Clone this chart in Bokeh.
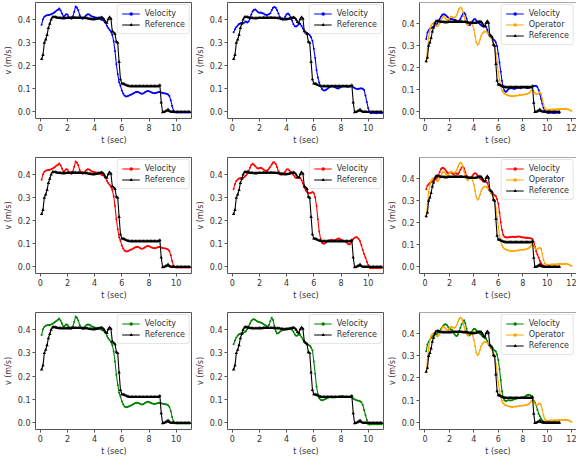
from bokeh.plotting import figure
from bokeh.layouts import gridplot
from bokeh.models import FixedTicker, PrintfTickFormatter, Span
from bokeh.embed import file_html
from bokeh.resources import INLINE

# ---------------- data ----------------
# sampling grids (s)
t_run = [round(0.1 * i, 1) for i in range(1, 111)]   # 0.1 .. 11.0
t_op = [round(0.1 * i, 1) for i in range(1, 121)]    # 0.1 .. 12.0

reference = [
    0.228, 0.245, 0.298, 0.312, 0.332, 0.362, 0.380, 0.398, 0.408, 0.410,
    0.409, 0.407, 0.406, 0.405, 0.405, 0.404, 0.404, 0.404, 0.405, 0.405,
    0.405, 0.405, 0.406, 0.406, 0.406, 0.406, 0.406, 0.406, 0.406, 0.406,
    0.405, 0.405, 0.405, 0.404, 0.404, 0.402, 0.401, 0.400, 0.400, 0.400,
    0.401, 0.402, 0.404, 0.406, 0.407, 0.405, 0.398, 0.388, 0.384, 0.400,
    0.408, 0.402, 0.348, 0.342, 0.336, 0.302, 0.298, 0.215, 0.140, 0.122,
    0.121, 0.119, 0.116, 0.113, 0.111,
    0.110, 0.110, 0.110, 0.110, 0.110, 0.110, 0.110, 0.110, 0.110, 0.110,
    0.110, 0.110, 0.110, 0.110, 0.110, 0.110, 0.110, 0.110, 0.110, 0.110,
    0.110, 0.110,
    0.115, 0.040, -0.002, -0.001, 0.002, 0.004, 0.010, 0.003, 0.000, 0.000,
    -0.001, -0.001, -0.001, -0.001, -0.001, -0.001, -0.001, -0.001, -0.001,
    -0.001, -0.001, -0.001, -0.001,
]

vel_col1 = [
    0.376, 0.400, 0.410, 0.415, 0.417, 0.418, 0.419, 0.421, 0.424, 0.428,
    0.432, 0.437, 0.441, 0.446, 0.437, 0.425, 0.412, 0.415, 0.421, 0.420,
    0.410, 0.404, 0.402, 0.412, 0.432, 0.455, 0.449, 0.438, 0.418, 0.406,
    0.402, 0.404, 0.412, 0.418, 0.421, 0.420, 0.416, 0.412, 0.410, 0.408,
    0.407, 0.406, 0.404, 0.401, 0.398, 0.396, 0.392, 0.384, 0.372, 0.362,
    0.354, 0.346, 0.332, 0.305, 0.262, 0.205, 0.162, 0.128, 0.112, 0.092,
    0.079, 0.070, 0.066, 0.067, 0.069, 0.072, 0.075, 0.078, 0.081, 0.084,
    0.086, 0.085, 0.082, 0.079, 0.078, 0.080, 0.084, 0.088, 0.090, 0.089,
    0.086, 0.083, 0.081, 0.080, 0.081, 0.083, 0.085, 0.085, 0.083, 0.081,
    0.080, 0.079, 0.078, 0.075, 0.068, 0.050, 0.025, 0.006, -0.002,
    -0.003, -0.003, -0.003, -0.003, -0.003, -0.003, -0.003, -0.003, -0.003,
    -0.003, -0.003,
]

vel_col2_r1 = [
    0.343, 0.356, 0.366, 0.373, 0.379, 0.382, 0.384, 0.383, 0.386, 0.390,
    0.386, 0.390, 0.402, 0.420, 0.434, 0.441, 0.442, 0.436, 0.430, 0.428,
    0.429, 0.426, 0.424, 0.420, 0.418, 0.419, 0.421, 0.426, 0.438, 0.449,
    0.453, 0.449, 0.438, 0.424, 0.409, 0.400, 0.398, 0.401, 0.411, 0.421,
    0.425, 0.419, 0.408, 0.394, 0.378, 0.369, 0.368, 0.373, 0.379, 0.380,
    0.371, 0.360, 0.350, 0.344, 0.340, 0.336, 0.331, 0.322, 0.306, 0.272,
    0.232, 0.180, 0.148, 0.126, 0.110, 0.098, 0.093, 0.092, 0.095, 0.100,
    0.104, 0.108, 0.110, 0.110, 0.108, 0.105, 0.102, 0.101, 0.104, 0.108,
    0.110, 0.111, 0.110, 0.109, 0.108, 0.109, 0.110, 0.110, 0.106, 0.103,
    0.100, 0.098, 0.099, 0.101, 0.101, 0.100, 0.094, 0.070, 0.042, 0.016,
    -0.002, -0.006, -0.005, -0.004, -0.005, -0.006, -0.005, -0.004, -0.005,
    -0.006,
]

vel_col2_r2 = [
    0.335, 0.358, 0.370, 0.377, 0.381, 0.383, 0.384, 0.384, 0.388, 0.394,
    0.402, 0.414, 0.428, 0.440, 0.445, 0.441, 0.434, 0.428, 0.425, 0.426,
    0.428, 0.425, 0.420, 0.416, 0.414, 0.418, 0.424, 0.432, 0.442, 0.450,
    0.451, 0.444, 0.430, 0.412, 0.400, 0.398, 0.400, 0.404, 0.412, 0.420,
    0.421, 0.416, 0.410, 0.404, 0.396, 0.388, 0.384, 0.386, 0.388, 0.385,
    0.374, 0.360, 0.344, 0.330, 0.324, 0.320, 0.318, 0.320, 0.323, 0.318,
    0.300, 0.262, 0.205, 0.152, 0.120, 0.104, 0.100, 0.101, 0.105, 0.110,
    0.113, 0.115, 0.116, 0.115, 0.114, 0.116, 0.119, 0.122, 0.121, 0.117,
    0.113, 0.110, 0.109, 0.106, 0.100, 0.096, 0.100, 0.110, 0.120, 0.125,
    0.128, 0.127, 0.120, 0.110, 0.094, 0.072, 0.055, 0.040, 0.022, 0.008,
    -0.004, -0.006, -0.005, -0.005, -0.005, -0.005, -0.005, -0.005, -0.005,
    -0.005,
]

vel_col2_r3 = [
    0.336, 0.352, 0.365, 0.373, 0.379, 0.382, 0.383, 0.384, 0.387, 0.392,
    0.400, 0.412, 0.425, 0.436, 0.442, 0.443, 0.440, 0.436, 0.432, 0.430,
    0.429, 0.426, 0.422, 0.418, 0.414, 0.412, 0.418, 0.435, 0.449, 0.440,
    0.415, 0.392, 0.382, 0.384, 0.390, 0.394, 0.396, 0.398, 0.400, 0.402,
    0.404, 0.403, 0.401, 0.398, 0.390, 0.378, 0.372, 0.374, 0.378, 0.376,
    0.366, 0.356, 0.348, 0.342, 0.338, 0.334, 0.330, 0.322, 0.310, 0.262,
    0.210, 0.155, 0.122, 0.105, 0.098, 0.096, 0.097, 0.100, 0.103, 0.106,
    0.108, 0.109, 0.109, 0.108, 0.108, 0.109, 0.110, 0.111, 0.112, 0.113,
    0.113, 0.112, 0.111, 0.110, 0.110, 0.110, 0.110, 0.108, 0.104, 0.100,
    0.097, 0.095, 0.094, 0.092, 0.088, 0.076, 0.055, 0.033, 0.012, -0.006,
    -0.008, -0.007, -0.007, -0.007, -0.007, -0.007, -0.007, -0.007, -0.007,
    -0.007,
]

vel_col3_r1 = [
    0.328, 0.358, 0.368, 0.374, 0.378, 0.381, 0.384, 0.388, 0.391, 0.398,
    0.408, 0.419, 0.429, 0.436, 0.440, 0.439, 0.435, 0.430, 0.425, 0.421,
    0.419, 0.418, 0.416, 0.415, 0.414, 0.410, 0.406, 0.410, 0.420, 0.431,
    0.441, 0.447, 0.440, 0.421, 0.402, 0.391, 0.392, 0.400, 0.410, 0.416,
    0.418, 0.412, 0.405, 0.400, 0.395, 0.390, 0.386, 0.385, 0.389, 0.384,
    0.370, 0.352, 0.341, 0.336, 0.331, 0.326, 0.321, 0.312, 0.296, 0.262,
    0.222, 0.180, 0.140, 0.110, 0.095, 0.089, 0.093, 0.100, 0.104, 0.106,
    0.106, 0.104, 0.103, 0.104, 0.107, 0.109, 0.108, 0.106, 0.108, 0.111,
    0.112, 0.110, 0.108, 0.107, 0.108, 0.110, 0.112, 0.114, 0.116, 0.117,
    0.116, 0.111, 0.098, 0.080, 0.058, 0.036, 0.016, 0.004, -0.002, -0.005,
    -0.006, -0.005, -0.004, -0.005, -0.006, -0.006, -0.005, -0.004, -0.005,
    -0.006,
]

vel_col3_r2 = [
    0.350, 0.366, 0.372, 0.378, 0.382, 0.386, 0.389, 0.392, 0.396, 0.402,
    0.414, 0.428, 0.440, 0.446, 0.446, 0.442, 0.434, 0.426, 0.422, 0.424,
    0.426, 0.422, 0.418, 0.420, 0.424, 0.420, 0.418, 0.426, 0.438, 0.448,
    0.452, 0.444, 0.428, 0.410, 0.400, 0.398, 0.400, 0.404, 0.412, 0.420,
    0.422, 0.420, 0.412, 0.404, 0.398, 0.394, 0.390, 0.386, 0.385, 0.388,
    0.378, 0.360, 0.345, 0.335, 0.330, 0.326, 0.322, 0.318, 0.305, 0.285,
    0.245, 0.200, 0.165, 0.144, 0.135, 0.133, 0.132, 0.132, 0.133, 0.134,
    0.135, 0.135, 0.134, 0.134, 0.135, 0.136, 0.136, 0.135, 0.133, 0.132,
    0.132, 0.131, 0.130, 0.130, 0.129, 0.128, 0.127, 0.124, 0.112, 0.090,
    0.070, 0.055, 0.040, 0.026, 0.015, 0.008, 0.003, 0.001, 0.000, 0.000,
    0.000, 0.000, 0.000, 0.000, 0.000, 0.000, 0.000, 0.000, 0.000, 0.000,
]

vel_col3_r3 = [
    0.320, 0.350, 0.362, 0.372, 0.380, 0.386, 0.390, 0.392, 0.394, 0.398,
    0.404, 0.410, 0.418, 0.426, 0.434, 0.439, 0.440, 0.436, 0.428, 0.421,
    0.418, 0.416, 0.408, 0.398, 0.390, 0.388, 0.395, 0.410, 0.425, 0.440,
    0.452, 0.458, 0.445, 0.420, 0.398, 0.390, 0.394, 0.404, 0.414, 0.420,
    0.419, 0.414, 0.408, 0.402, 0.398, 0.393, 0.388, 0.382, 0.378, 0.375,
    0.365, 0.352, 0.342, 0.334, 0.330, 0.327, 0.323, 0.318, 0.305, 0.280,
    0.240, 0.190, 0.140, 0.112, 0.100, 0.097, 0.098, 0.100, 0.100, 0.099,
    0.100, 0.102, 0.104, 0.106, 0.108, 0.109, 0.109, 0.110, 0.111, 0.112,
    0.114, 0.117, 0.121, 0.124, 0.125, 0.123, 0.118, 0.108, 0.098, 0.090,
    0.078, 0.058, 0.040, 0.028, 0.017, 0.009, 0.004, 0.002, 0.001, 0.000,
    0.000, 0.000, 0.000, 0.000, 0.000, 0.000, 0.000, 0.000, 0.000, 0.000,
]

operator = [
    0.225, 0.282, 0.338, 0.370, 0.388, 0.397, 0.400, 0.396, 0.390, 0.386,
    0.389, 0.398, 0.410, 0.423, 0.430, 0.426, 0.419, 0.412, 0.414, 0.423,
    0.429, 0.428, 0.425, 0.424, 0.428, 0.438, 0.452, 0.464, 0.471, 0.466,
    0.451, 0.430, 0.410, 0.396, 0.390, 0.398, 0.405, 0.402, 0.390, 0.370,
    0.342, 0.314, 0.302, 0.308, 0.325, 0.342, 0.353, 0.359, 0.362, 0.361,
    0.357, 0.351, 0.343, 0.334, 0.324, 0.312, 0.294, 0.265, 0.225, 0.180,
    0.142, 0.114, 0.097, 0.087, 0.081, 0.078, 0.076, 0.074, 0.072, 0.071,
    0.070, 0.070, 0.071, 0.072, 0.072, 0.073, 0.074, 0.075, 0.076, 0.076,
    0.077, 0.078, 0.079, 0.081, 0.084, 0.089, 0.096, 0.101, 0.094, 0.084,
    0.078, 0.079, 0.084, 0.086, 0.080, 0.058, 0.032, 0.015, 0.010, 0.008,
    0.008, 0.009, 0.010, 0.010, 0.010, 0.010, 0.010, 0.011, 0.011, 0.012,
    0.012, 0.012, 0.012, 0.012, 0.013, 0.012, 0.011, 0.009, 0.006, 0.003,
]

row_colors = ["#0000ff", "#ff0000", "#008000"]
operator_color = "#ffa500"
vel_grid = [
    [vel_col1, vel_col2_r1, vel_col3_r1],
    [vel_col1, vel_col2_r2, vel_col3_r2],
    [vel_col1, vel_col2_r3, vel_col3_r3],
]
x_ticks_short = [0, 2, 4, 6, 8, 10]
x_ticks_long = [0, 2, 4, 6, 8, 10, 12]
y_ticks = [0.0, 0.1, 0.2, 0.3, 0.4]

# ---------------- layout ----------------
FONT = "DejaVu Sans"
FS = "8px"
TXT = "#333333"
SPINE = "#555555"
FIG_W = 192
LEFT = 32
ROWS = [(2, 120, 25), (10, 120, 25), (10, 120, 26)]  # top border, frame, bottom border


def make_plot(r, c):
    top, fh, bot = ROWS[r]
    if c < 2:
        xr = (-0.35, 11.2)
        yr = (-0.029, 0.472)
        xt = x_ticks_short
    else:
        xr = (-0.45, 12.4)
        yr = (-0.031, 0.493)
        xt = x_ticks_long
    p = figure(width=FIG_W, height=top + fh + bot, x_range=xr, y_range=yr,
               output_backend="svg", toolbar_location=None,
               min_border=0, min_border_left=LEFT, min_border_right=0,
               min_border_top=top, min_border_bottom=bot)
    p.grid.visible = False
    p.background_fill_color = "white"
    p.border_fill_color = "white"

    for ax in (p.xaxis[0], p.yaxis[0]):
        ax.major_label_text_font = FONT
        ax.major_label_text_font_size = FS
        ax.major_label_text_color = TXT
        ax.axis_label_text_font = FONT
        ax.axis_label_text_font_size = FS
        ax.axis_label_text_font_style = "normal"
        ax.axis_label_text_color = TXT
        ax.major_tick_out = 3
        ax.major_tick_in = 0
        ax.major_tick_line_color = SPINE
        ax.minor_tick_line_color = None
        ax.major_label_standoff = 2
        ax.axis_label_standoff = 2
    p.xaxis[0].ticker = FixedTicker(ticks=xt)
    p.yaxis[0].ticker = FixedTicker(ticks=y_ticks)
    p.yaxis[0].formatter = PrintfTickFormatter(format="%.1f")
    p.xaxis[0].formatter = PrintfTickFormatter(format="%d")
    p.xaxis[0].axis_label = "t (sec)"
    p.yaxis[0].axis_label = "v (m/s)"

    if c < 2:
        p.outline_line_color = SPINE
        p.outline_line_width = 1
        p.outline_line_alpha = 1
        p.xaxis[0].axis_line_color = None
        p.yaxis[0].axis_line_color = None
    else:
        p.outline_line_color = None
        p.xaxis[0].axis_line_color = SPINE
        p.yaxis[0].axis_line_color = SPINE
        p.add_layout(Span(location=yr[1], dimension="width",
                          line_color=SPINE, line_width=1))

    col = row_colors[r]
    vel = vel_grid[r][c]
    p.line(t_run, vel, line_color=col, line_width=1.1, legend_label="Velocity")
    p.scatter(t_run, vel, marker="circle", size=2.0, fill_color=col,
              line_color=None, legend_label="Velocity")
    if c == 2:
        p.line(t_op, operator, line_color=operator_color, line_width=1.1,
               legend_label="Operator")
        p.scatter(t_op, operator, marker="circle", size=1.8,
                  fill_color=operator_color, line_color=None,
                  legend_label="Operator")
    p.line(t_run, reference, line_color="black", line_width=1.1,
           legend_label="Reference")
    p.scatter(t_run, reference, marker="triangle", size=3.4,
              fill_color="black", line_color=None, legend_label="Reference")

    lg = p.legend[0]
    lg.location = "top_right"
    lg.margin = 2
    lg.padding = 4
    lg.spacing = 2
    lg.label_text_font = FONT
    lg.label_text_font_size = FS
    lg.label_text_color = TXT
    lg.label_height = 9
    lg.glyph_height = 9
    lg.glyph_width = 18
    lg.label_standoff = 5
    lg.border_line_color = "#cccccc"
    lg.border_line_width = 1
    lg.background_fill_alpha = 0.85
    try:
        lg.border_radius = 3
    except Exception:
        pass
    return p


plots = [[make_plot(r, c) for c in range(3)] for r in range(3)]
grid = gridplot(plots, toolbar_location=None)

open("out.html", "w").write(file_html(grid, INLINE))
